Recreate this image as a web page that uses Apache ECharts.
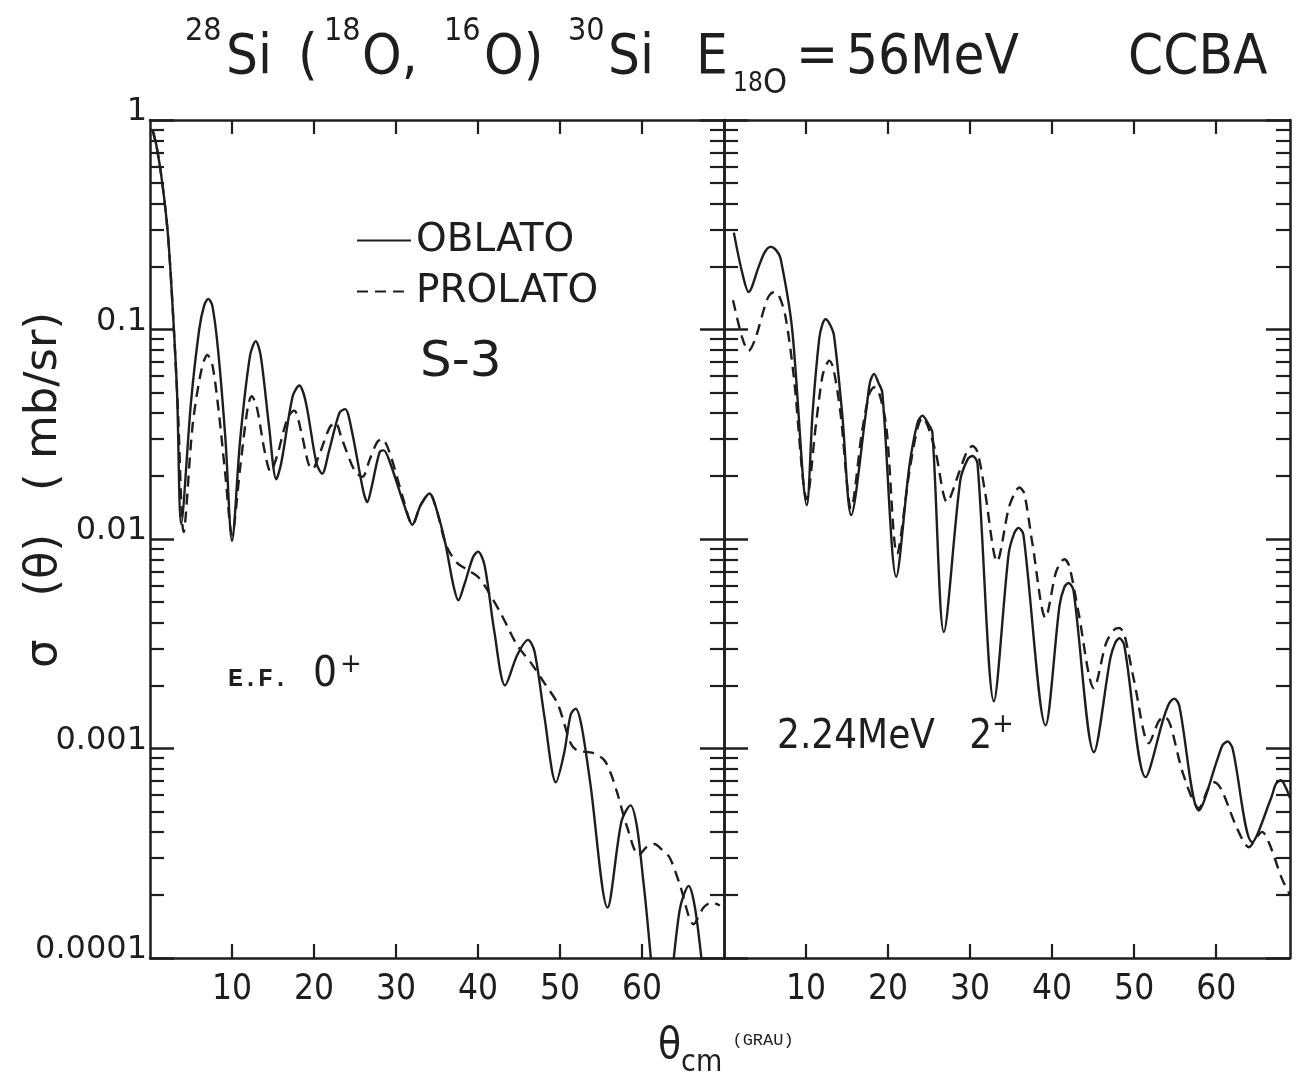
<!DOCTYPE html>
<html>
<head>
<meta charset="utf-8">
<title>28Si(18O,16O)30Si CCBA</title>
<script src="https://cdn.jsdelivr.net/npm/echarts@6/dist/echarts.min.js"></script>
<style>
  html, body { margin: 0; padding: 0; background: #fff; }
  #chart { width: 1312px; height: 1076px; }
</style>
</head>
<body>
<div id="chart"></div>
<script>
// angles in degrees (c.m.), cross sections in mb/sr

// ground state 0+ (left panel)
const thetaOblatoGs = [0.3, 0.8, 1.5, 2.2, 2.8, 3.3, 3.8, 5.0, 6.0, 6.6, 7.1, 7.6, 8.3, 9.2, 10.0,
  11.0, 12.2, 12.9, 13.5, 14.5, 15.4, 16.0, 17.4, 18.2, 19.0, 20.3, 21.0, 21.8,
  23.1, 23.8, 24.6, 26.0, 26.5, 27.0, 28.0, 28.5, 29.3, 31.0, 32.0, 33.0,
  34.1, 34.9, 36.0, 37.0, 37.6, 38.3, 39.4, 40.0, 40.8, 42.0, 43.3,
  44.8, 46.1, 46.9, 48.1, 49.5, 50.5, 51.3, 51.9, 52.6, 53.7, 55.8,
  57.5, 58.6, 59.4, 60.2, 62.5, 64.6, 65.7, 66.5, 67.5];
const sigmaOblatoGs = [0.9, 0.75, 0.5, 0.28, 0.12, 0.05, 0.0118, 0.045, 0.1, 0.13, 0.14, 0.13, 0.08, 0.03, 0.0098,
  0.03, 0.075, 0.088, 0.075, 0.035, 0.0193, 0.023, 0.048, 0.054, 0.045, 0.023, 0.0205, 0.026,
  0.040, 0.0417, 0.033, 0.017, 0.015, 0.0175, 0.026, 0.0265, 0.023, 0.0145, 0.0117, 0.0145,
  0.0165, 0.014, 0.0096, 0.006, 0.0051, 0.006, 0.0082, 0.0087, 0.0075, 0.0036, 0.0020,
  0.0028, 0.0033, 0.0029, 0.00142, 0.00069, 0.00095, 0.00145, 0.00155, 0.0013, 0.00068, 0.000174,
  0.00045, 0.000535, 0.00042, 0.000226, 0.00004, 0.00017, 0.000221, 0.00017, 0.00008];

const thetaProlatoGs = [0.3, 0.8, 1.5, 2.2, 2.8, 3.4, 4.1, 5.2, 6.3, 7.0, 7.6, 8.4, 9.2, 10.0,
  11.0, 11.9, 12.4, 13.0, 14.0, 14.7, 15.5, 16.8, 17.6, 18.4, 19.3, 19.8, 20.6,
  21.9, 22.6, 23.4, 25.0, 25.9, 26.8, 27.7, 28.3, 29.2, 31.0, 32.0, 33.0,
  34.1, 34.9, 36.0, 36.8, 37.6, 38.8, 40.0, 40.8, 42.8, 44.8, 46.5, 48.1, 49.7,
  51.3, 52.1, 54.1, 55.4, 56.2, 57.0, 58.2, 59.6, 60.6, 61.5, 62.4, 63.4, 64.6,
  66.3, 67.5, 68.5, 69.5];
const sigmaProlatoGs = [0.9, 0.75, 0.5, 0.28, 0.12, 0.042, 0.0108, 0.035, 0.065, 0.0755, 0.068, 0.04, 0.02, 0.0105,
  0.022, 0.042, 0.048, 0.043, 0.026, 0.021, 0.025, 0.038, 0.041, 0.033, 0.023, 0.0215, 0.025,
  0.034, 0.036, 0.03, 0.021, 0.0198, 0.024, 0.029, 0.030, 0.026, 0.015, 0.0117, 0.0145,
  0.0165, 0.014, 0.0096, 0.0083, 0.0076, 0.0071, 0.0066, 0.0060, 0.0044, 0.0031, 0.00255, 0.00205, 0.00164,
  0.00106, 0.00098, 0.00095, 0.00088, 0.00076, 0.00061, 0.00042, 0.00031, 0.00034, 0.00035, 0.00033, 0.0003, 0.000225,
  0.000145, 0.000174, 0.000184, 0.000178];

// 2.24 MeV 2+ (right panel)
const thetaOblato2 = [1.2, 2.2, 3.0, 4.3, 5.0, 5.7, 6.4, 6.9, 8.3, 10.1,
  10.8, 11.6, 12.0, 12.4, 12.9, 13.4, 14.4, 15.5, 17.3, 17.8, 18.3, 18.8, 19.3, 21.0,
  22.6, 23.6, 24.2, 24.8, 25.4, 26.8, 28.8, 29.7, 30.3, 30.9, 32.9,
  34.7, 35.4, 35.9, 36.5, 39.2, 40.9, 41.5, 42.0, 42.6, 45.1,
  47.1, 47.7, 48.2, 48.8, 51.4, 53.6, 54.3, 54.9, 55.5, 57.9,
  60.2, 60.8, 61.4, 62.0, 64.4, 66.7, 67.3, 67.9, 68.5, 69.0];
const sigmaOblato2 = [0.29, 0.188, 0.151, 0.203, 0.235, 0.248, 0.238, 0.218, 0.101, 0.0145,
  0.040, 0.09, 0.106, 0.112, 0.106, 0.094, 0.040, 0.013, 0.040, 0.056, 0.0614, 0.056, 0.050, 0.0066,
  0.0223, 0.036, 0.0388, 0.036, 0.0323, 0.0036, 0.019, 0.024, 0.0249, 0.023, 0.00168,
  0.0085, 0.0107, 0.0113, 0.0105, 0.00129, 0.0048, 0.0059, 0.00617, 0.0057, 0.00096,
  0.0027, 0.0032, 0.00336, 0.0031, 0.00073, 0.0014, 0.00165, 0.00173, 0.0016, 0.000506,
  0.0009, 0.00104, 0.00108, 0.001, 0.000357, 0.00058, 0.00068, 0.000705, 0.00065, 0.00058];

const thetaProlato2 = [1.1, 2.2, 3.0, 3.8, 5.0, 5.5, 6.1, 6.7, 7.5, 8.5, 10.1,
  11.2, 12.0, 12.5, 12.8, 13.3, 14.2, 15.5, 16.8, 17.7, 18.3, 18.9, 19.8, 21.1,
  22.6, 23.6, 24.2, 24.8, 25.8, 27.2, 28.7, 29.6, 30.3, 30.9, 31.8, 33.3,
  34.7, 35.5, 36.0, 36.6, 37.6, 39.2, 40.4, 41.0, 41.5, 42.1, 43.2, 45.1,
  46.6, 47.6, 48.2, 48.8, 50.0, 51.8, 53.0, 53.7, 54.4, 56.0, 57.9,
  59.0, 59.8, 60.7, 62.5, 64.0, 65.0, 65.6, 66.5, 68.0, 69.0];
const sigmaProlato2 = [0.138, 0.092, 0.079, 0.09, 0.13, 0.145, 0.151, 0.145, 0.115, 0.06, 0.0155,
  0.035, 0.06, 0.068, 0.071, 0.066, 0.04, 0.014, 0.032, 0.049, 0.053, 0.05, 0.034, 0.0085,
  0.021, 0.034, 0.038, 0.035, 0.026, 0.015, 0.021, 0.026, 0.0278, 0.026, 0.017, 0.0078,
  0.014, 0.0168, 0.0176, 0.0165, 0.0095, 0.0042, 0.0068, 0.0077, 0.008, 0.0074, 0.0045, 0.00194,
  0.0032, 0.0037, 0.00376, 0.0035, 0.0021, 0.00106, 0.00135, 0.00142, 0.0013, 0.00075, 0.00052,
  0.00064, 0.00069, 0.00063, 0.00042, 0.000338, 0.00038, 0.0004, 0.00035, 0.00024, 0.0002];

const xTickValues = [10, 20, 30, 40, 50, 60];
const yTickValues = [0.0001, 0.001, 0.01, 0.1, 1];
const yTickLabels = ['0.0001', '0.001', '0.01', '0.1', '1'];

const ink = '#1e1e1e';
const COND = "'DejaVu Sans Condensed','DejaVu Sans',sans-serif";
const WIDE = "'DejaVu Sans',sans-serif";
const TYPE = "'Liberation Mono','DejaVu Sans Mono',monospace";

// minor ticks 2..9 in every decade
const yMinorValues = [];
for (let d = -4; d < 0; d++) {
  for (let k = 2; k <= 9; k++) yMinorValues.push(+(k * Math.pow(10, d)).toPrecision(3));
}

function pairs(xs, ys) {
  return xs.map((x, i) => [x, ys[i]]);
}

function yLabel(v) {
  const i = yTickValues.findIndex(t => Math.abs(Math.log10(t) - Math.log10(v)) < 1e-6);
  return i < 0 ? '' : yTickLabels[i];
}

function yAxes(gridIndex, position, withLabels) {
  const base = {
    type: 'log', logBase: 10, gridIndex: gridIndex, position: position,
    min: 0.0001, max: 1, splitLine: { show: false }
  };
  return [
    Object.assign({}, base, {
      axisLine: { show: true, lineStyle: { color: ink, width: 2.5 } },
      axisTick: { inside: true, length: 24, customValues: yTickValues, lineStyle: { color: ink, width: 2.5 } },
      axisLabel: {
        show: withLabels, customValues: yTickValues, formatter: yLabel,
        margin: 3, verticalAlign: 'bottom', lineHeight: 16,
        fontFamily: WIDE, fontSize: 32, color: ink
      }
    }),
    Object.assign({}, base, {
      axisLine: { show: false },
      axisTick: { inside: true, length: 14, customValues: yMinorValues, lineStyle: { color: ink, width: 2.2 } },
      axisLabel: { show: false }
    })
  ];
}

function xAxes(gridIndex, max) {
  const base = { type: 'value', gridIndex: gridIndex, min: 0, max: max, splitLine: { show: false } };
  return [
    Object.assign({}, base, {
      position: 'bottom',
      axisLine: { show: true, lineStyle: { color: ink, width: 2.5 } },
      axisTick: { inside: true, length: 14, customValues: xTickValues, lineStyle: { color: ink, width: 2.2 } },
      axisLabel: { customValues: xTickValues, margin: 14, fontFamily: COND, fontSize: 35, color: ink }
    }),
    Object.assign({}, base, {
      position: 'top',
      axisLine: { show: true, lineStyle: { color: ink, width: 2.5 } },
      axisTick: { inside: true, length: 14, customValues: xTickValues, lineStyle: { color: ink, width: 2.2 } },
      axisLabel: { show: false }
    })
  ];
}

function curve(name, xIdx, yIdx, xs, ys, dashed) {
  return {
    name: name, type: 'line', xAxisIndex: xIdx, yAxisIndex: yIdx,
    data: pairs(xs, ys), symbol: 'none', showSymbol: false,
    smooth: 0.3, clip: true, color: ink,
    lineStyle: { color: ink, width: 2.4, type: dashed ? [11, 7] : 'solid' }
  };
}

// one piece of the hand-lettered title
function word(x, y, text, size) {
  return {
    type: 'text', x: x, y: y,
    style: { text: text, fontFamily: COND, fontSize: size, fill: ink, verticalAlign: 'middle' }
  };
}

const chart = echarts.init(document.getElementById('chart'));

const option = {
  backgroundColor: '#ffffff',
  animation: false,
  legend: {
    data: ['OBLATO', 'PROLATO'],
    orient: 'vertical', left: 351, top: 216,
    itemWidth: 54, itemHeight: 14, itemGap: 12,
    selectedMode: false,
    itemStyle: { opacity: 0 },
    textStyle: { fontFamily: WIDE, fontSize: 39, color: ink }
  },
  grid: [
    { left: 150, right: 588, top: 120, bottom: 118 },
    { left: 724, right: 22, top: 120, bottom: 118 }
  ],
  xAxis: [].concat(xAxes(0, 70), xAxes(1, 69)),
  yAxis: [].concat(
    yAxes(0, 'left', true), yAxes(0, 'right', false),
    yAxes(1, 'left', false), yAxes(1, 'right', false)
  ),
  series: [
    curve('OBLATO', 0, 0, thetaOblatoGs, sigmaOblatoGs, false),
    curve('PROLATO', 0, 0, thetaProlatoGs, sigmaProlatoGs, true),
    curve('OBLATO', 2, 4, thetaOblato2, sigmaOblato2, false),
    curve('PROLATO', 2, 4, thetaProlato2, sigmaProlato2, true)
  ],
  graphic: [
    // title: 28Si(18O,16O)30Si  E18O = 56MeV  CCBA
    word(185, 32, '28', 32),
    word(226, 58, 'Si', 56),
    word(298, 58, '(', 56),
    word(324, 32, '18', 32),
    word(362, 58, 'O,', 56),
    word(444, 32, '16', 32),
    word(484, 58, 'O)', 56),
    word(568, 32, '30', 32),
    word(608, 58, 'Si', 56),
    word(696, 58, 'E', 56),
    word(733, 84, '18', 26),
    word(763, 84, 'O', 34),
    word(796, 58, '=', 56),
    word(846, 58, '56MeV', 56),
    word(1128, 58, 'CCBA', 56),
    {
      type: 'text', x: 420, y: 338,
      style: { text: 'S-3', fontFamily: WIDE, fontSize: 50, fill: ink }
    },
    {
      type: 'text', x: 228, y: 652,
      style: {
        text: '{t|E.F.}{z|0}{p|+}',
        rich: {
          t: { fontFamily: TYPE, fontSize: 25, fontWeight: 'bold', fill: ink, lineHeight: 44, verticalAlign: 'bottom', padding: [0, 25, 4, 0] },
          z: { fontFamily: COND, fontSize: 42, fill: ink, lineHeight: 44, verticalAlign: 'bottom' },
          p: { fontFamily: WIDE, fontSize: 26, fill: ink, lineHeight: 44, verticalAlign: 'top', padding: [0, 0, 0, 3] }
        }
      }
    },
    {
      type: 'text', x: 777, y: 712,
      style: {
        text: '{z|2.24MeV   2}{p|+}',
        rich: {
          z: { fontFamily: COND, fontSize: 40, fill: ink, lineHeight: 46, verticalAlign: 'bottom' },
          p: { fontFamily: WIDE, fontSize: 26, fill: ink, lineHeight: 46, verticalAlign: 'top' }
        }
      }
    },
    {
      type: 'text', x: 44, y: 490, rotation: Math.PI / 2,
      style: {
        text: 'σ   (θ)   ( mb/sr)', fontFamily: WIDE, fontSize: 45, fill: ink,
        align: 'center', verticalAlign: 'middle'
      }
    },
    {
      type: 'text', x: 658, y: 1026,
      style: {
        text: '{t|θ}{s|cm}{g| (GRAU)}',
        rich: {
          t: { fontFamily: COND, fontSize: 42, fill: ink, lineHeight: 52, verticalAlign: 'top' },
          s: { fontFamily: COND, fontSize: 30, fill: ink, lineHeight: 50, verticalAlign: 'bottom' },
          g: { fontFamily: TYPE, fontSize: 17, fill: ink, lineHeight: 52, verticalAlign: 'top', padding: [6, 0, 0, 0] }
        }
      }
    }
  ]
};

chart.setOption(option);
window.addEventListener('resize', function () {
  chart.resize();
});
</script>
</body>
</html>
